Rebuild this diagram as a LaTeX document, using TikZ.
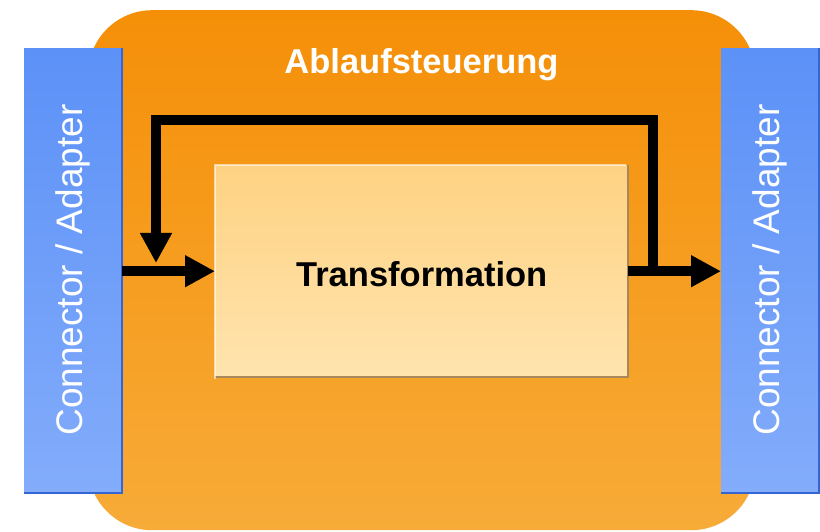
\documentclass[tikz,border=0pt]{standalone}
\usepackage{fontspec}
\setmainfont{Liberation Sans}
\usetikzlibrary{arrows.meta}

\definecolor{orangeTop}{HTML}{F58F08}
\definecolor{orangeBot}{HTML}{F7AB38}
\definecolor{blueTop}{HTML}{5C91F7}
\definecolor{blueBot}{HTML}{83ACFB}
\definecolor{blueEdge}{HTML}{3565D2}
\definecolor{boxTop}{HTML}{FED283}
\definecolor{boxBot}{HTML}{FFE4AE}
\definecolor{boxShadow}{HTML}{A8875A}

\tikzset{
  frame/.style={rounded corners=64pt, top color=orangeTop, bottom color=orangeBot,
    minimum width=667pt, minimum height=520pt, inner sep=0pt, anchor=north west},
  adapter/.style={top color=blueTop, bottom color=blueBot,
    minimum width=98pt, minimum height=445pt, inner sep=0pt, anchor=north west},
  adapterlabel/.style={rotate=90, text=white, font=\fontsize{37}{37}\selectfont, inner sep=0pt},
  transbox/.style={top color=boxTop, bottom color=boxBot,
    minimum width=413pt, minimum height=212pt, inner sep=0pt, anchor=north west,
    text height=30pt, font=\bfseries\fontsize{34.5}{34.5}\selectfont},
  title/.style={text=white, font=\bfseries\fontsize{34.5}{34.5}\selectfont, inner sep=0pt},
  flow/.style={line width=10pt, line join=miter, -{Triangle[length=30pt,width=30pt]}},
  loopline/.style={line width=10pt, line join=miter},
}

\begin{document}
\begin{tikzpicture}[x=1pt, y=-1pt]
  \useasboundingbox (0,0) rectangle (820,532);
  \fill[white] (0,0) rectangle (820,532);

  % control frame
  \node[frame] (ctrl) at (88,10) {};
  \node[title] (ctrltitle) at (421.5,65) {Ablaufsteuerung};

  % adapters on both sides
  \node[adapter] (lbar) at (24,48) {};
  \node[adapter] (rbar) at (721,48) {};
  \draw[blueEdge, line width=2pt] (lbar.south west) -- (lbar.south east) -- (lbar.north east);
  \draw[blueEdge, line width=2pt] (rbar.south west) -- (rbar.south east) -- (rbar.north east);
  \node[adapterlabel] (llabel) at (73,270) {Connector / Adapter};
  \node[adapterlabel] (rlabel) at (770,270) {Connector / Adapter};

  % transformation step
  \node[transbox] (trans) at (215,165) {Transformation};
  \draw[boxShadow, line width=2pt] (trans.south west) -- (trans.south east) -- (trans.north east);
  \draw[white, opacity=0.6, line width=1.5pt] ([yshift=-2pt]trans.south west) |- ([xshift=-2pt]trans.north east);

  % data flow and feedback loop
  \coordinate (split) at (653,276);
  \coordinate (topR) at (653,120);
  \coordinate (topL) at (156,120);
  \coordinate (drop) at (156,263);
  \draw[loopline] (split) -- (topR) -- (topL) -- ([yshift=28pt]drop);
  \draw[flow] ([yshift=30pt]drop) -- (drop);
  \draw[flow] (lbar.east |- trans.west) -- (trans.west);
  \draw[flow] (trans.east) -- (rbar.west |- trans.east);
\end{tikzpicture}
\end{document}
